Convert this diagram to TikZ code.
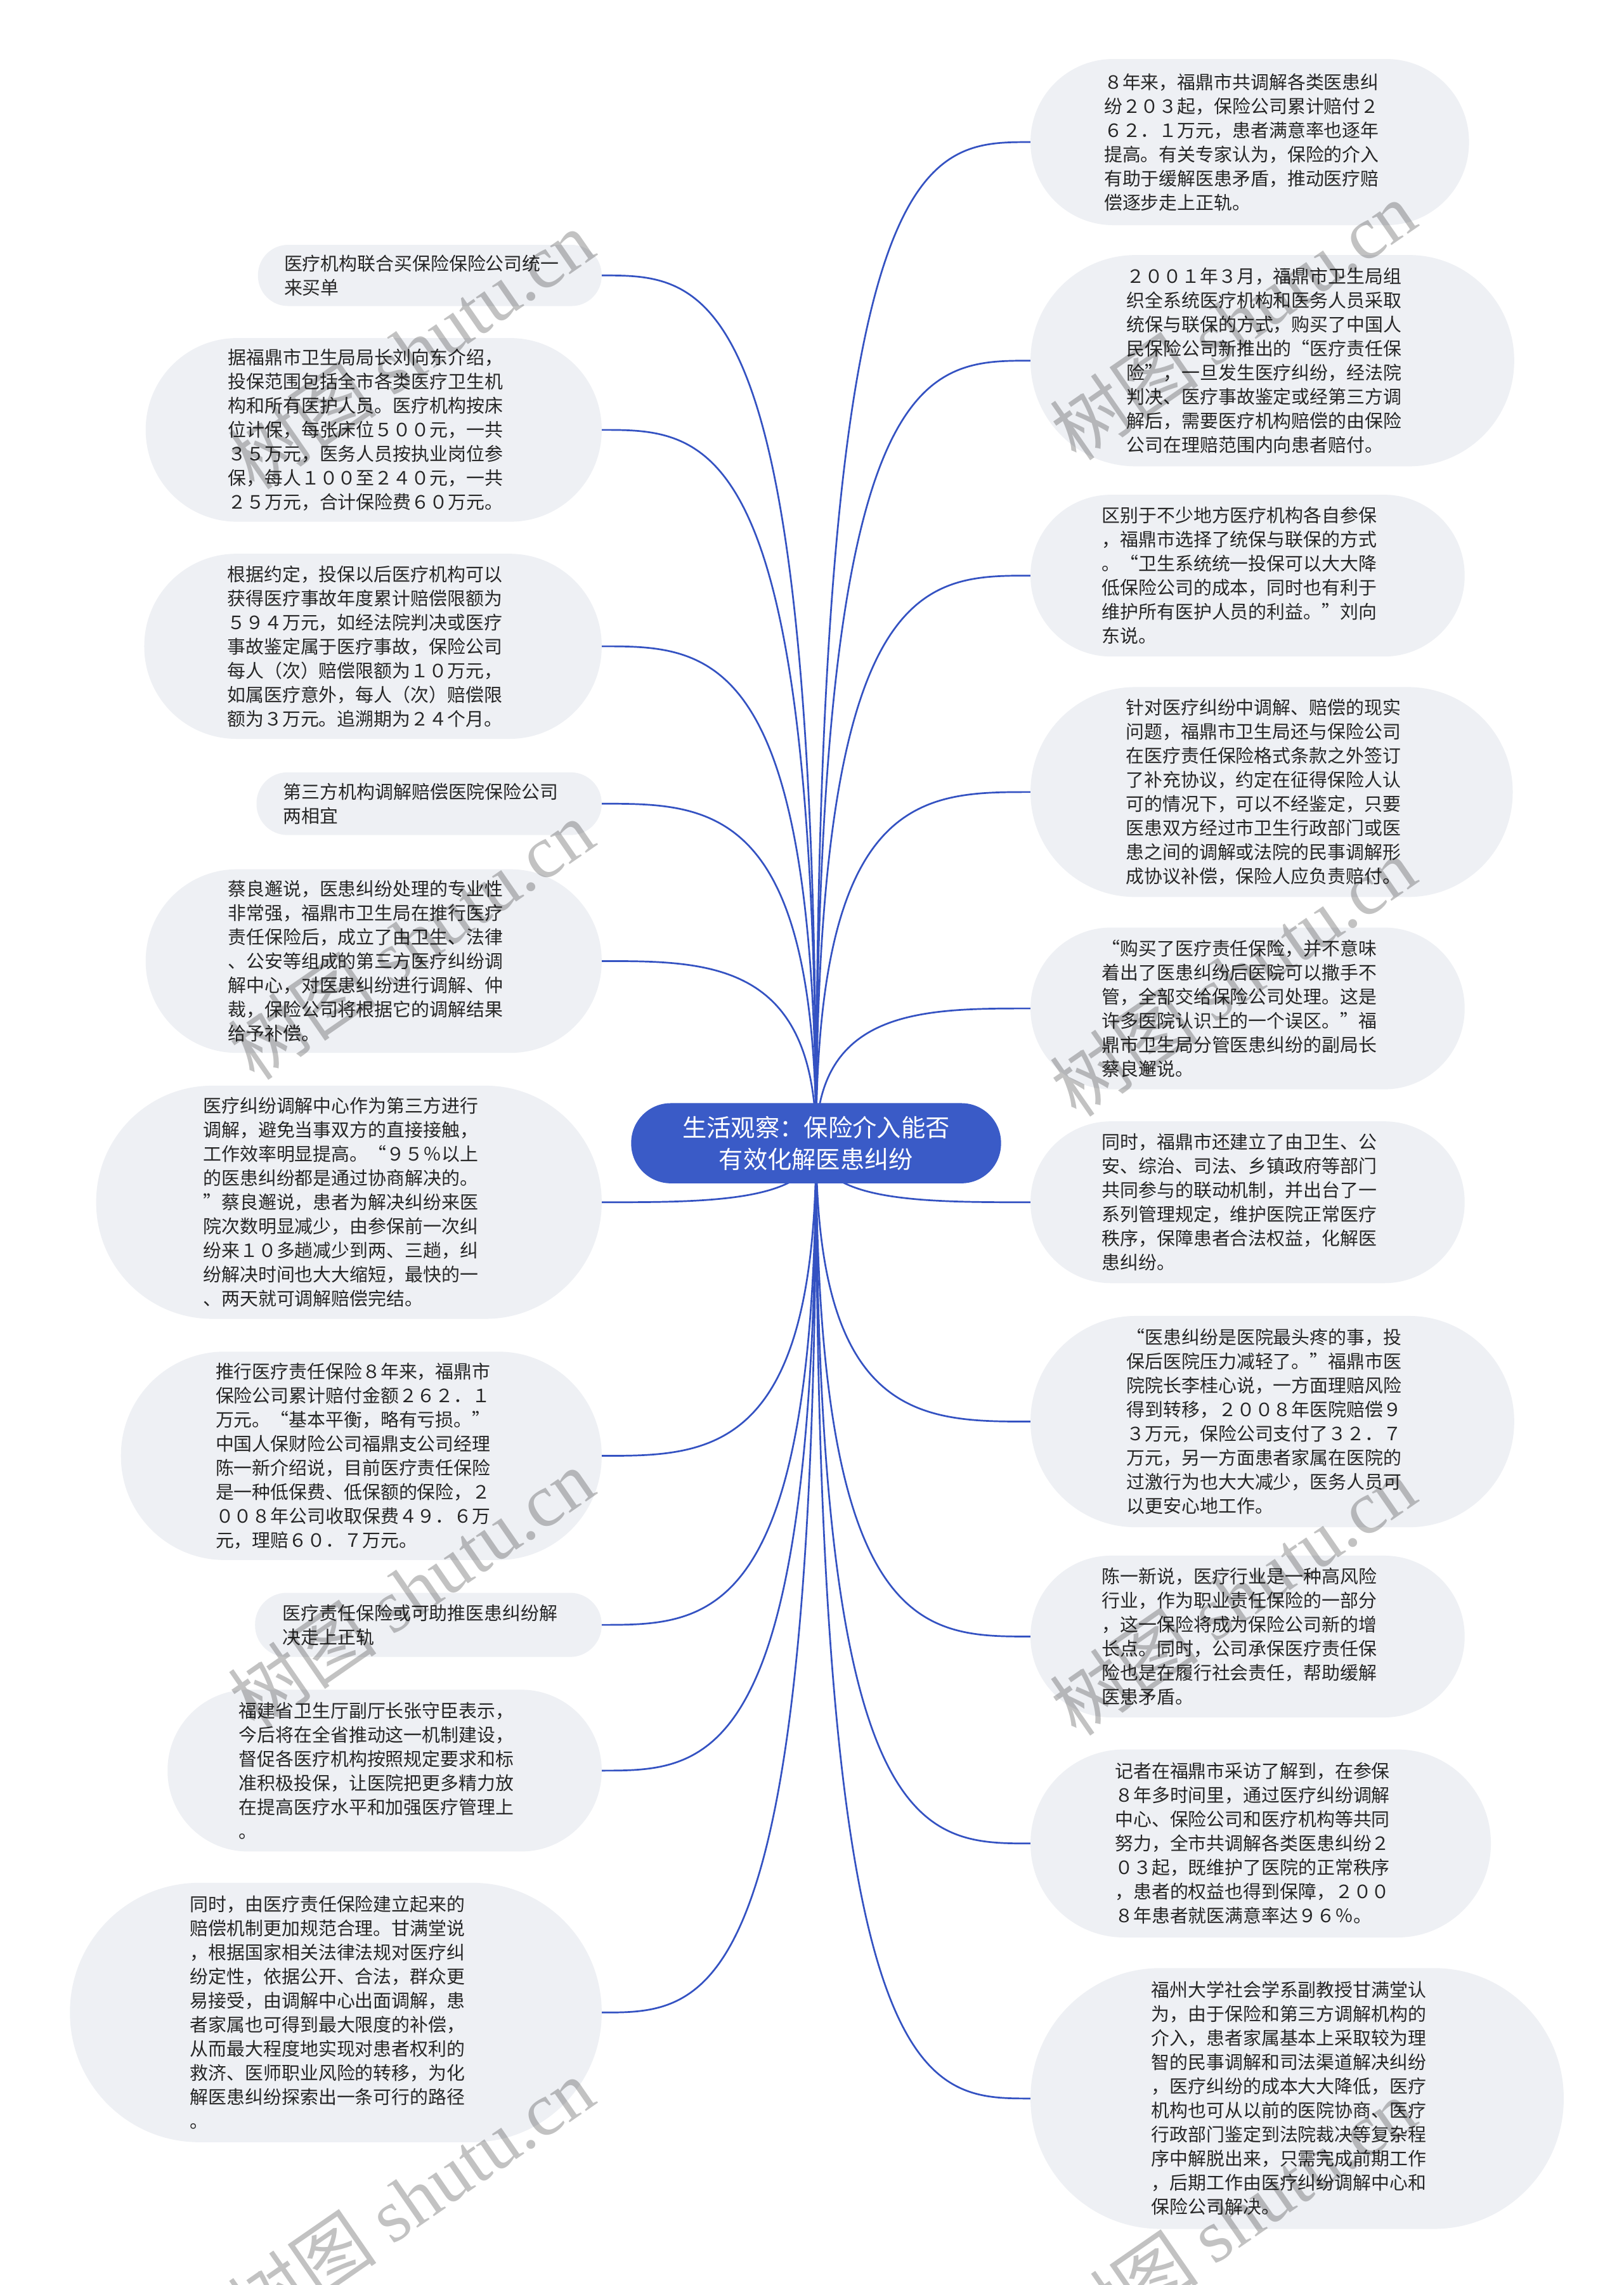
\documentclass[tikz,border=0pt]{standalone}
\usepackage{fontspec}
\setmainfont{Noto Sans CJK SC}
\newfontfamily\wmlatin{Liberation Serif}
\usetikzlibrary{calc}
\definecolor{boxfill}{HTML}{EEF0F4}
\definecolor{mainblue}{HTML}{3A5BC7}
\definecolor{linkblue}{HTML}{3452C2}
\definecolor{txt}{HTML}{262626}
\pgfdeclarelayer{back}
\pgfdeclarelayer{mid}
\pgfsetlayers{back,mid,main}
\newcommand\bodyfont{\fontsize{28.9pt}{38pt}\selectfont}
\newcommand\linkL[1]{\draw[conn] (C.center) .. controls (C.center |- #1.east) and ($(C.center |- #1.east)!0.5!(#1.east)$) .. (#1.east);}
\newcommand\linkR[1]{\draw[conn] (C.center) .. controls (C.center |- #1.west) and ($(C.center |- #1.west)!0.5!(#1.west)$) .. (#1.west);}
\tikzset{
  pillbase/.style={fill=boxfill, minimum height=#1*2.2978pt,
    rounded corners=#1*1.1489pt-0.6pt, text width=459.5pt, align=left, inner sep=0pt,
    font=\bodyfont, text=txt},
  pill/.style={pillbase=#1, minimum width=429.5pt+#1*2.2978pt},
  spill/.style={pillbase=#1, minimum width=445.5pt+#1*2.2978pt},
  lpill/.style={pill=#1, anchor=east},
  rpill/.style={pill=#1, anchor=west},
  lspill/.style={spill=#1, anchor=east},
  conn/.style={draw=linkblue, line width=2.7pt},
  wm/.style={rotate=34.7, text=black, opacity=0.24, inner sep=0pt, font=\fontsize{118pt}{120pt}\selectfont}
}
\begin{document}
\begin{tikzpicture}[x=2.31465pt,y=-2.2978pt]
\begin{pgfonlayer}{back}
\fill[white] (0,0) rectangle (1106,1568);
\end{pgfonlayer}
\useasboundingbox (0,0) rectangle (1106,1568);
% ---------- left nodes
\node[lspill=42] (L1) at (410,189) {医疗机构联合买保险保险公司统一\\来买单};
\node[lpill=126] (L2) at (410,295) {据福鼎市卫生局局长刘向东介绍，\\投保范围包括全市各类医疗卫生机\\构和所有医护人员。医疗机构按床\\位计保，每张床位５００元，一共\\３５万元，医务人员按执业岗位参\\保，每人１００至２４０元，一共\\２５万元，合计保险费６０万元。};
\node[lpill=127] (L3) at (410,443.5) {根据约定，投保以后医疗机构可以\\获得医疗事故年度累计赔偿限额为\\５９４万元，如经法院判决或医疗\\事故鉴定属于医疗事故，保险公司\\每人（次）赔偿限额为１０万元，\\如属医疗意外，每人（次）赔偿限\\额为３万元。追溯期为２４个月。};
\node[lspill=43] (L4) at (410,551.5) {第三方机构调解赔偿医院保险公司\\两相宜};
\node[lpill=126] (L5) at (410,659.5) {蔡良邂说，医患纠纷处理的专业性\\非常强，福鼎市卫生局在推行医疗\\责任保险后，成立了由卫生、法律\\、公安等组成的第三方医疗纠纷调\\解中心，对医患纠纷进行调解、仲\\裁，保险公司将根据它的调解结果\\给予补偿。};
\node[lpill=160] (L6) at (410,825) {医疗纠纷调解中心作为第三方进行\\调解，避免当事双方的直接接触，\\工作效率明显提高。“９５％以上\\的医患纠纷都是通过协商解决的。\\”蔡良邂说，患者为解决纠纷来医\\院次数明显减少，由参保前一次纠\\纷来１０多趟减少到两、三趟，纠\\纷解决时间也大大缩短，最快的一\\、两天就可调解赔偿完结。};
\node[lpill=143] (L7) at (410,999) {推行医疗责任保险８年来，福鼎市\\保险公司累计赔付金额２６２．１\\万元。“基本平衡，略有亏损。”\\中国人保财险公司福鼎支公司经理\\陈一新介绍说，目前医疗责任保险\\是一种低保费、低保额的保险，２\\００８年公司收取保费４９．６万\\元，理赔６０．７万元。};
\node[lspill=44] (L8) at (410,1115) {医疗责任保险或可助推医患纠纷解\\决走上正轨};
\node[lpill=111] (L9) at (410,1215) {福建省卫生厅副厅长张守臣表示，\\今后将在全省推动这一机制建设，\\督促各医疗机构按照规定要求和标\\准积极投保，让医院把更多精力放\\在提高医疗水平和加强医疗管理上\\。};
\node[lpill=178] (L10) at (410,1381) {同时，由医疗责任保险建立起来的\\赔偿机制更加规范合理。甘满堂说\\，根据国家相关法律法规对医疗纠\\纷定性，依据公开、合法，群众更\\易接受，由调解中心出面调解，患\\者家属也可得到最大限度的补偿，\\从而最大程度地实现对患者权利的\\救济、医师职业风险的转移，为化\\解医患纠纷探索出一条可行的路径\\。};
% ---------- right nodes
\node[rpill=114] (R1) at (702,97.5) {８年来，福鼎市共调解各类医患纠\\纷２０３起，保险公司累计赔付２\\６２．１万元，患者满意率也逐年\\提高。有关专家认为，保险的介入\\有助于缓解医患矛盾，推动医疗赔\\偿逐步走上正轨。};
\node[rpill=145] (R2) at (702,247.5) {２００１年３月，福鼎市卫生局组\\织全系统医疗机构和医务人员采取\\统保与联保的方式，购买了中国人\\民保险公司新推出的“医疗责任保\\险”，一旦发生医疗纠纷，经法院\\判决、医疗事故鉴定或经第三方调\\解后，需要医疗机构赔偿的由保险\\公司在理赔范围内向患者赔付。};
\node[rpill=111] (R3) at (702,395) {区别于不少地方医疗机构各自参保\\，福鼎市选择了统保与联保的方式\\。“卫生系统统一投保可以大大降\\低保险公司的成本，同时也有利于\\维护所有医护人员的利益。”刘向\\东说。};
\node[rpill=144] (R4) at (702,543.5) {针对医疗纠纷中调解、赔偿的现实\\问题，福鼎市卫生局还与保险公司\\在医疗责任保险格式条款之外签订\\了补充协议，约定在征得保险人认\\可的情况下，可以不经鉴定，只要\\医患双方经过市卫生行政部门或医\\患之间的调解或法院的民事调解形\\成协议补偿，保险人应负责赔付。};
\node[rpill=111] (R5) at (702,692) {“购买了医疗责任保险，并不意味\\着出了医患纠纷后医院可以撒手不\\管，全部交给保险公司处理。这是\\许多医院认识上的一个误区。”福\\鼎市卫生局分管医患纠纷的副局长\\蔡良邂说。};
\node[rpill=111] (R6) at (702,825) {同时，福鼎市还建立了由卫生、公\\安、综治、司法、乡镇政府等部门\\共同参与的联动机制，并出台了一\\系列管理规定，维护医院正常医疗\\秩序，保障患者合法权益，化解医\\患纠纷。};
\node[rpill=145] (R7) at (702,975.5) {“医患纠纷是医院最头疼的事，投\\保后医院压力减轻了。”福鼎市医\\院院长李桂心说，一方面理赔风险\\得到转移，２００８年医院赔偿９\\３万元，保险公司支付了３２．７\\万元，另一方面患者家属在医院的\\过激行为也大大减少，医务人员可\\以更安心地工作。};
\node[rpill=111] (R8) at (702,1123) {陈一新说，医疗行业是一种高风险\\行业，作为职业责任保险的一部分\\，这一保险将成为保险公司新的增\\长点。同时，公司承保医疗责任保\\险也是在履行社会责任，帮助缓解\\医患矛盾。};
\node[rpill=129] (R9) at (702,1265) {记者在福鼎市采访了解到，在参保\\８年多时间里，通过医疗纠纷调解\\中心、保险公司和医疗机构等共同\\努力，全市共调解各类医患纠纷２\\０３起，既维护了医院的正常秩序\\，患者的权益也得到保障，２００\\８年患者就医满意率达９６％。};
\node[rpill=179] (R10) at (702,1440) {福州大学社会学系副教授甘满堂认\\为，由于保险和第三方调解机构的\\介入，患者家属基本上采取较为理\\智的民事调解和司法渠道解决纠纷\\，医疗纠纷的成本大大降低，医疗\\机构也可从以前的医院协商、医疗\\行政部门鉴定到法院裁决等复杂程\\序中解脱出来，只需完成前期工作\\，后期工作由医疗纠纷调解中心和\\保险公司解决。};
% ---------- centre
\node[fill=mainblue, minimum width=252*2.31465pt, minimum height=55*2.2978pt,
  rounded corners=27.5*2.2978pt-0.6pt, text width=240*2.31465pt, align=center, inner sep=0pt,
  text=white, font=\fontsize{38.3pt}{50.5pt}\selectfont] (C) at (556,784.5)
  {生活观察：保险介入能否\\有效化解医患纠纷};
% ---------- connectors
\begin{pgfonlayer}{mid}
\foreach \n in {L1,L2,L3,L4,L5,L6,L7,L8,L9,L10}{\linkL{\n}}
\foreach \n in {R1,R2,R3,R4,R5,R6,R7,R8,R9,R10}{\linkR{\n}}
\end{pgfonlayer}
% ---------- watermarks
\node[wm] (w1) at (280,240) {树图 {\wmlatin shutu.cn}};
\node[wm] (w2) at (840,220) {树图 {\wmlatin shutu.cn}};
\node[wm] (w3) at (280,645) {树图 {\wmlatin shutu.cn}};
\node[wm] (w4) at (840,670) {树图 {\wmlatin shutu.cn}};
\node[wm] (w5) at (280,1090) {树图 {\wmlatin shutu.cn}};
\node[wm] (w6) at (840,1095) {树图 {\wmlatin shutu.cn}};
\node[wm] (w7) at (280,1508) {树图 {\wmlatin shutu.cn}};
\node[wm] (w8) at (840,1522) {树图 {\wmlatin shutu.cn}};
\end{tikzpicture}
\end{document}
